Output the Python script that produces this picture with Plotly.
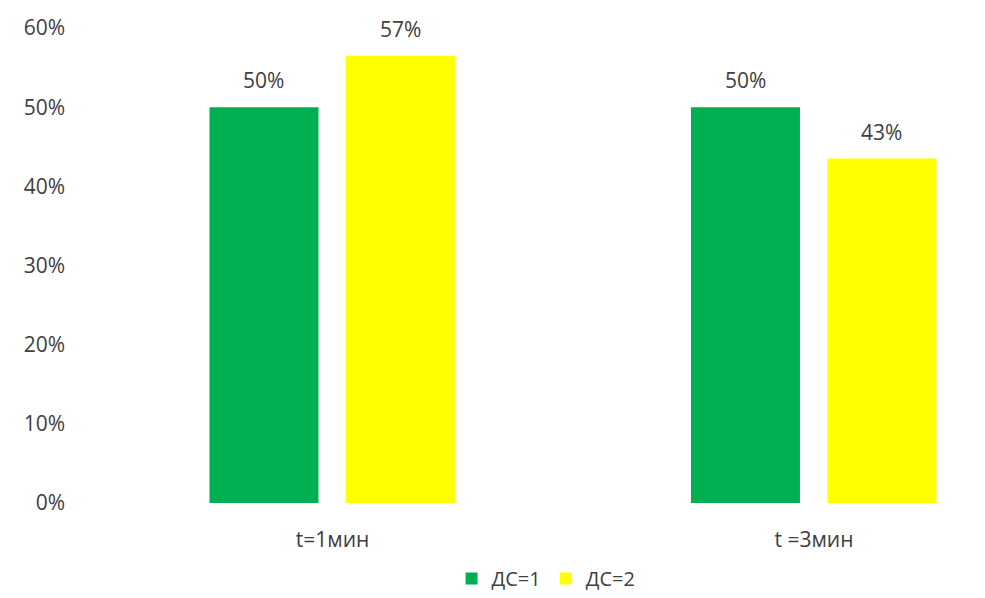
import plotly.graph_objects as go

categories = ["t=1мин", "t =3мин"]
series_names = ["ДС=1", "ДС=2"]
ds1_values = [0.50, 0.50]
ds2_values = [0.565, 0.435]
ds1_labels = ["50%", "50%"]
ds2_labels = ["57%", "43%"]
y_ticks = [0, 0.1, 0.2, 0.3, 0.4, 0.5, 0.6]

colors = ["#00B050", "#FFFF00"]
font_family = "Open Sans, Lato, sans-serif"
text_color = "#404040"
fs = 21

bar_w = 0.2264
offsets = [-0.2555, 0.028]

fig = go.Figure()
for vals, name, col, off in zip([ds1_values, ds2_values], series_names, colors, offsets):
    fig.add_trace(go.Bar(
        x=categories, y=vals, name=name, marker=dict(color=col, line=dict(width=0)),
        width=bar_w, offset=off,
    ))

annotations = []
for vals, labels, off in zip([ds1_values, ds2_values], [ds1_labels, ds2_labels], offsets):
    for i, (v, lab) in enumerate(zip(vals, labels)):
        annotations.append(dict(
            x=i + off + bar_w / 2, y=v, xref="x", yref="y", text=lab, showarrow=False,
            yanchor="middle", yshift=27, font=dict(size=fs, color=text_color, family=font_family),
        ))

fig.update_layout(
    width=985, height=598,
    margin=dict(l=80, r=0, t=28, b=92),
    plot_bgcolor="white", paper_bgcolor="white",
    barmode="overlay",
    font=dict(family=font_family, size=fs, color=text_color),
    xaxis=dict(type="category", range=[-0.5244, 1.3552], showgrid=False, showline=False,
               zeroline=False, ticks="", ticklabelstandoff=22,
               tickfont=dict(size=fs, color=text_color)),
    yaxis=dict(range=[0, 0.6], tickvals=y_ticks, tickformat=".0%", showgrid=False,
               zeroline=False, showline=False, ticks="", ticklabelstandoff=14,
               tickfont=dict(size=fs, color=text_color)),
    legend=dict(orientation="h", x=0.515, xanchor="center", y=-0.16, yanchor="middle",
                font=dict(size=fs - 1, color=text_color), itemwidth=30),
    annotations=annotations,
    showlegend=True,
)

fig.write_html("out.html", config={"displayModeBar": False},
               post_script="document.body.style.margin='0';")
